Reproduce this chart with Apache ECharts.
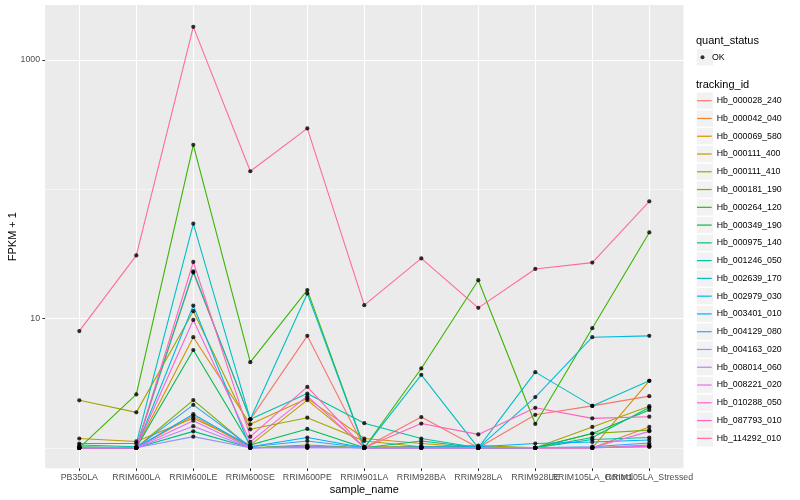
<!DOCTYPE html>
<html>
<head>
<meta charset="utf-8">
<script src="https://cdn.jsdelivr.net/npm/echarts@6/dist/echarts.min.js"></script>
<style>html,body{margin:0;padding:0;background:#fff}#c{width:800px;height:500px}</style>
</head>
<body>
<div id="c"></div>
<script>
// ---------- data ----------
const categories = ['PB350LA','RRIM600LA','RRIM600LE','RRIM600SE','RRIM600PE','RRIM901LA','RRIM928BA','RRIM928LA','RRIM928LE','RRIM105LA_Control','RRIM105LA_Stressed'];
const trackingIds = ['Hb_000028_240','Hb_000042_040','Hb_000069_580','Hb_000111_400','Hb_000111_410','Hb_000181_190','Hb_000264_120','Hb_000349_190','Hb_000975_140','Hb_001246_050','Hb_002639_170','Hb_002979_030','Hb_003401_010','Hb_004129_080','Hb_004163_020','Hb_008014_060','Hb_008221_020','Hb_010288_050','Hb_087793_010','Hb_114292_010'];
const Hb_000028_240 = [1, 1, 22.7, 1.66, 7.35, 1, 1.73, 1, 1.80, 2.11, 2.51];
const Hb_000042_040 = [1, 1, 1.76, 1, 1.02, 1, 1.02, 1, 1, 1, 1.45];
const Hb_000069_580 = [1, 1, 7.17, 1.52, 2.41, 1.18, 1.08, 1, 1, 1, 3.30];
const Hb_000111_400 = [1.18, 1.12, 1.69, 1.05, 2.34, 1.02, 1.02, 1, 1, 1, 1.05];
const Hb_000111_410 = [2.33, 1.88, 11.4, 1.39, 1.71, 1.13, 1.02, 1.04, 1, 1.45, 2.10];
const Hb_000181_190 = [1, 1, 2.34, 1, 1.05, 1, 1, 1, 1, 1.29, 1.37];
const Hb_000264_120 = [1, 2.59, 221, 4.6, 16.6, 1, 4.11, 19.8, 1.53, 8.42, 46.4];
const Hb_000349_190 = [1.02, 1, 5.71, 1.05, 1.40, 1, 1, 1, 1, 1.29, 1.96];
const Hb_000975_140 = [1, 1, 1.34, 1, 1.02, 1, 1.13, 1, 1, 1.20, 2.05];
const Hb_001246_050 = [1.05, 1.02, 23.2, 1.66, 2.63, 1.55, 1.18, 1, 1, 1.16, 1.20];
const Hb_002639_170 = [1.08, 1.08, 54.2, 1.66, 15.6, 1, 3.67, 1, 3.85, 2.11, 3.30];
const Hb_002979_030 = [1, 1, 12.6, 1, 1.02, 1, 1, 1, 2.47, 7.17, 7.35];
const Hb_003401_010 = [1, 1, 1.82, 1.02, 1.20, 1, 1.02, 1.02, 1.08, 1.11, 1.15];
const Hb_004129_080 = [1, 1, 2.15, 1.02, 1.13, 1, 1, 1, 1, 1.02, 1.09];
const Hb_004163_020 = [1, 1, 1.22, 1, 1, 1, 1, 1, 1, 1, 1.02];
const Hb_008014_060 = [1, 1, 1.47, 1, 1, 1, 1, 1, 1, 1, 1.03];
const Hb_008221_020 = [1, 1, 1.62, 1, 1.02, 1, 1, 1, 1, 1, 1.34];
const Hb_010288_050 = [1, 1, 9.75, 1.11, 2.51, 1, 1, 1, 1, 1, 1.02];
const Hb_087793_010 = [1, 1, 27.4, 1.22, 2.96, 1, 1.54, 1.27, 2.04, 1.69, 1.74];
const Hb_114292_010 = [8.0, 30.8, 1807, 138, 296, 12.7, 29.2, 12.1, 24.2, 27.1, 80.7];
const yMajorBreaks = [10, 1000];
const yMinorBreaks = [1, 100];
const quantStatus = 'OK';

// ---------- styles ----------
const palette = ['#F8766D','#EA8331','#D89000','#C09B00','#A3A500','#7CAE00','#39B600','#00BB4E','#00BF7D','#00C1A3','#00BFC4','#00BAE0','#00B0F6','#35A2FF','#9590FF','#C77CFF','#E76BF3','#FA62DB','#FF62BC','#FF6C91'];
const seriesValues = [Hb_000028_240,Hb_000042_040,Hb_000069_580,Hb_000111_400,Hb_000111_410,Hb_000181_190,Hb_000264_120,Hb_000349_190,Hb_000975_140,Hb_001246_050,Hb_002639_170,Hb_002979_030,Hb_003401_010,Hb_004129_080,Hb_004163_020,Hb_008014_060,Hb_008221_020,Hb_010288_050,Hb_087793_010,Hb_114292_010];
const FONT = 'Liberation Sans, Arial, Helvetica, sans-serif';
const catIdx = categories.map((c, i) => i);
const evenIdx = catIdx.filter(i => i % 2 === 0);
const oddIdx = catIdx.filter(i => i % 2 === 1);

const lineSeries = trackingIds.map((id, k) => ({
  name: id,
  type: 'line',
  xAxisIndex: 0, yAxisIndex: 0,
  data: seriesValues[k].map((v, i) => [i, v]),
  symbol: 'none',
  lineStyle: { width: 1.1, color: palette[k] },
  itemStyle: { color: palette[k] },
  z: 2,
  animation: false
}));

const pointData = [];
seriesValues.forEach(arr => arr.forEach((v, i) => pointData.push([i, v])));

const legTop = 92.06, keyH = 17.28, keyGap = 0.49;
const keyRects = trackingIds.map((id, k) => ({
  type: 'rect',
  shape: { x: 696.3, y: legTop + k * (keyH + keyGap), width: keyH, height: keyH },
  style: { fill: '#F2F2F2', stroke: '#FFFFFF', lineWidth: 1 },
  z: -1, silent: true
}));

const labelStyle = { formatter: v => categories[Math.round(v)] || '', color: '#4D4D4D', fontSize: 8.8, fontFamily: FONT, margin: 5, hideOverlap: false };

const option = {
  backgroundColor: '#FFFFFF',
  animation: false,
  textStyle: { fontFamily: FONT },
  grid: { left: 45.1, right: 116.5, top: 5, bottom: 31.7, show: true, backgroundColor: '#EBEBEB', borderWidth: 0, containLabel: false, outerBoundsMode: 'none' },
  xAxis: [
    {
      type: 'value', min: -0.6, max: 10.6, position: 'bottom',
      axisLine: { show: false, onZero: false },
      axisTick: { show: true, customValues: catIdx, length: 2.75, lineStyle: { color: '#333333', width: 1 } },
      axisLabel: Object.assign({ customValues: evenIdx }, labelStyle),
      splitLine: { show: true, lineStyle: { color: '#FFFFFF', width: 1.07 } },
      name: 'sample_name', nameLocation: 'middle', nameGap: 16, nameMoveOverlap: false,
      nameTextStyle: { color: '#000000', fontSize: 11, fontFamily: FONT }
    },
    {
      type: 'value', min: -0.6, max: 10.6, position: 'bottom', offset: 0,
      axisLine: { show: false, onZero: false },
      axisTick: { show: false },
      axisLabel: Object.assign({ customValues: oddIdx }, labelStyle),
      splitLine: { show: false }
    }
  ],
  yAxis: {
    type: 'log', logBase: 10, min: 0.694, max: 2667,
    axisLine: { show: false, onZero: false },
    axisTick: { show: true, customValues: yMajorBreaks, length: 2.75, lineStyle: { color: '#333333', width: 1 } },
    axisLabel: { customValues: yMajorBreaks, formatter: v => String(Math.round(v)), color: '#4D4D4D', fontSize: 8.8, fontFamily: FONT, margin: 5, hideOverlap: false },
    splitLine: { show: true, lineStyle: { color: '#FFFFFF', width: 1.07 } },
    minorTick: { show: false }, minorSplitLine: { show: false },
    name: 'FPKM + 1', nameLocation: 'middle', nameGap: 27, nameRotate: 90, nameMoveOverlap: false,
    nameTextStyle: { color: '#000000', fontSize: 11, fontFamily: FONT }
  },
  legend: [
    {
      data: [quantStatus], orient: 'vertical', left: 700.5, top: 48.66, padding: 0,
      itemWidth: 9, itemHeight: 4, icon: 'circle', selectedMode: false,
      textStyle: { color: '#000000', fontSize: 8.8, fontFamily: FONT, lineHeight: keyH }
    },
    {
      data: trackingIds, orient: 'vertical', left: 697, top: legTop, padding: 0,
      itemWidth: 14.7, itemHeight: 1.2, itemGap: keyGap, icon: 'rect', selectedMode: false,
      textStyle: { color: '#000000', fontSize: 8.8, fontFamily: FONT, lineHeight: keyH }
    }
  ],
  graphic: [
    { type: 'text', left: 696, top: 35.5, style: { text: 'quant_status', fill: '#000', font: '11px ' + FONT }, silent: true },
    { type: 'text', left: 696, top: 79, style: { text: 'tracking_id', fill: '#000', font: '11px ' + FONT }, silent: true },
    { type: 'rect', shape: { x: 696.3, y: 48.66, width: keyH, height: keyH }, style: { fill: '#F2F2F2', stroke: '#FFFFFF', lineWidth: 1 }, z: -1, silent: true }
  ].concat(keyRects),
  series: [
    {
      name: 'minor', type: 'line', data: [], silent: true,
      markLine: { silent: true, symbol: 'none', z: 1, animation: false, label: { show: false },
        lineStyle: { color: '#FFFFFF', width: 0.53, type: 'solid' },
        data: yMinorBreaks.map(v => ({ yAxis: v })) }
    }
  ].concat(lineSeries).concat([
    {
      name: quantStatus, type: 'scatter', data: pointData, symbol: 'circle', symbolSize: 4.2,
      itemStyle: { color: '#000000' }, z: 5, animation: false
    }
  ])
};

const chart = echarts.init(document.getElementById('c'), null, { renderer: 'canvas' });
chart.setOption(option);
</script>
</body>
</html>
